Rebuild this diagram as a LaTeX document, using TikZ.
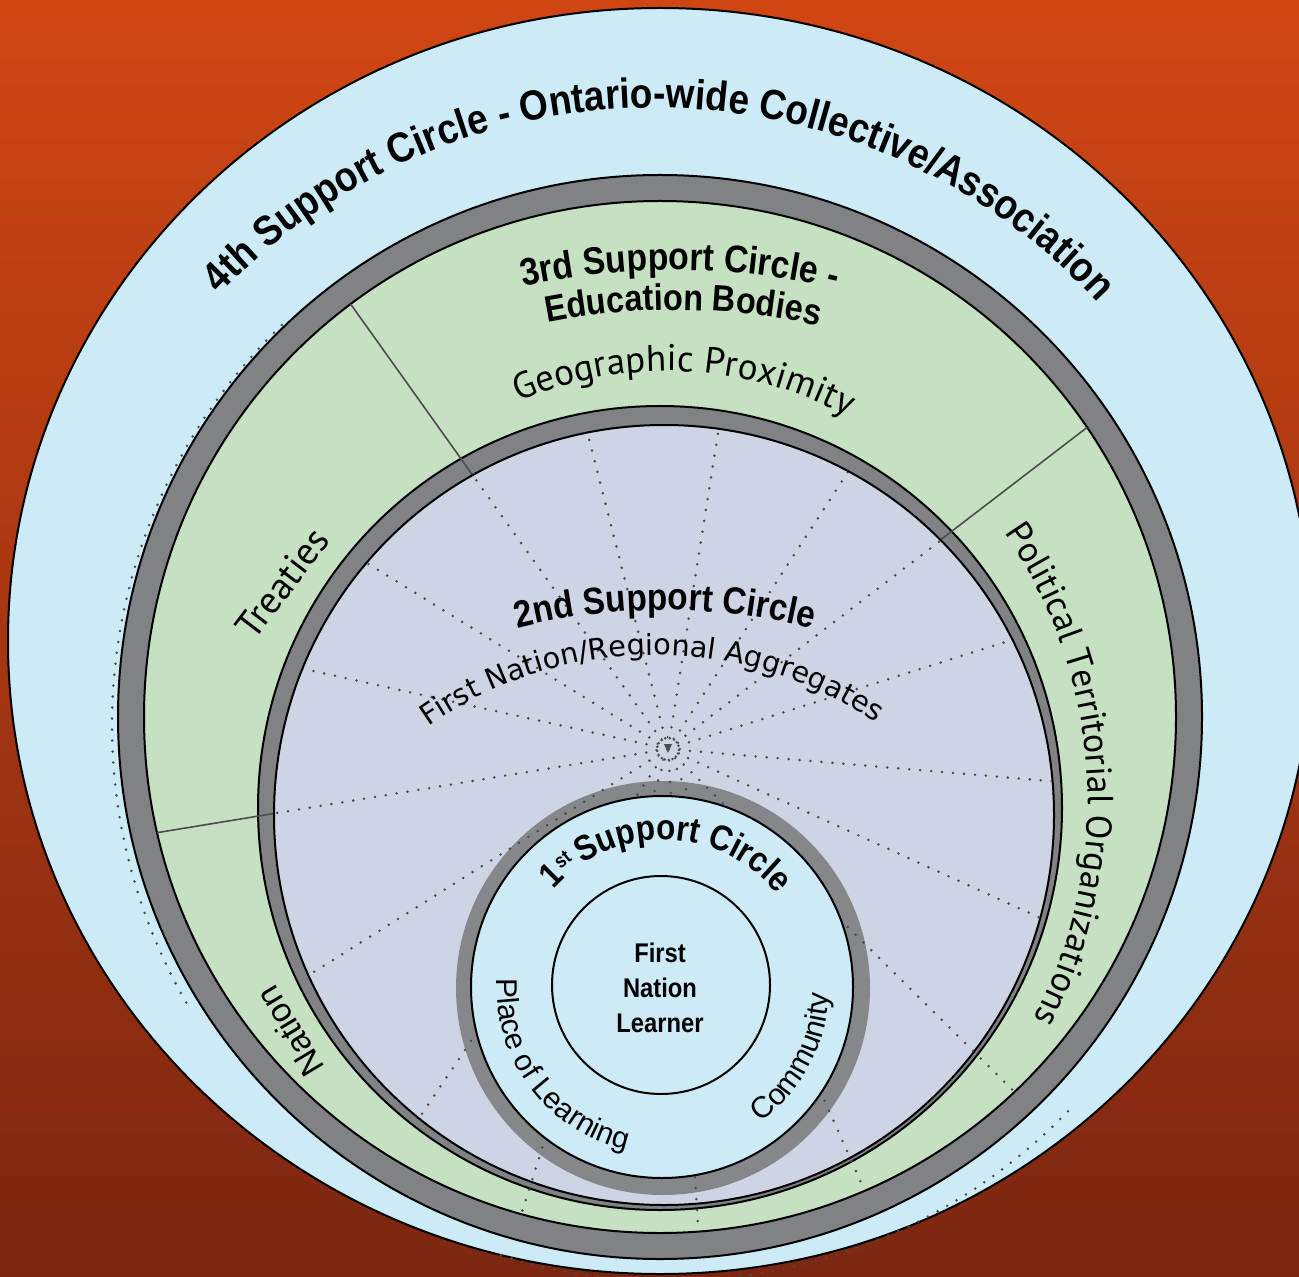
\documentclass[tikz,border=0pt]{standalone}
\usepackage{fontspec}
\setmainfont{Liberation Sans}
\newfontfamily\condfont[FakeStretch=0.88]{Liberation Sans}
\newfontfamily\humfont{PT Sans}
\newfontfamily\widefont{DejaVu Sans}
\usetikzlibrary{decorations.text}

\definecolor{bgtop}{HTML}{D04613}
\definecolor{bgmid}{HTML}{A53618}
\definecolor{bgbot}{HTML}{7C2611}
\definecolor{skyblue}{HTML}{CDEBF6}
\definecolor{bandgreen}{HTML}{C5E1C1}
\definecolor{lavender}{HTML}{CDD4E4}
\definecolor{ringgray}{HTML}{818286}
\definecolor{ringgraylight}{HTML}{86878B}
\definecolor{dotgray}{HTML}{4B4B4B}
\definecolor{divgray}{HTML}{4D4D4D}

\newcommand\headfont{\condfont\bfseries}
\newcommand\plainsans{\fontsize{15}{18}\selectfont}

\tikzset{
  outline/.style={draw=black, line width=1pt},
  dotline/.style={draw=dotgray, line width=1.4pt, line cap=round, dash pattern=on 0pt off 5.5pt},
  divider/.style={draw=divgray, line width=0.8pt},
  curvedtext/.style={decorate, decoration={text along path, text align=center, text={#1}}},
  curvedleft/.style={decorate, decoration={text along path, text align=left, text={#1}}},
}

\begin{document}
\begin{tikzpicture}[x=0.5pt, y=0.5pt]
\useasboundingbox (0,0) rectangle (1299,1276);
\shade[top color=bgtop, middle color=bgmid, bottom color=bgbot] (0,0) rectangle (1299,1276);

% centres of the rings
\coordinate (o4) at (660,635);
\coordinate (o3) at (660,559);
\coordinate (o2) at (660,468);
\coordinate (o2i) at (664,461);
\coordinate (o1) at (663,288);
\coordinate (o1i) at (662,289);
\coordinate (o0) at (661,291);
\coordinate (hub) at (668,527);
\coordinate (odot) at (668,551);
% centres of the curved captions
\coordinate (c4t) at (655,567);
\coordinate (c3t) at (675,306);
\coordinate (c2t) at (665,66);
\coordinate (cfn) at (655,226);
\coordinate (cpol) at (620,476);

% 4th support circle
\filldraw[fill=skyblue, outline] (o4) circle[x radius=652, y radius=633];
\draw[dotline] ([shift={(134:556)}]odot) arc[start angle=134, end angle=210, radius=556];
\draw[dotline] ([shift={(-44:556)}]odot) arc[start angle=-44, end angle=-108, radius=556];

% 3rd support circle
\filldraw[fill=ringgray, outline] (o3) circle[radius=542];
\filldraw[fill=bandgreen, outline] (o3) circle[radius=516];

% 2nd support circle ring
\filldraw[fill=ringgray, outline] (o2) circle[radius=402];

% sector dividers of the 3rd circle
\begin{scope}
  \clip (o3) circle[radius=516];
  \draw[divider] (hub) -- ++(125.5:700);
  \draw[divider] (hub) -- ++(37.5:700);
  \draw[divider] (hub) -- ++(189.3:700);
\end{scope}

\filldraw[fill=lavender, outline] (o2i) circle[radius=390];

% 1st support circle ring
\fill[ringgraylight] (o1) circle[radius=207];

% dotted spokes from the hub
\begin{scope}
  \clip (o2i) circle[radius=389];
  \foreach \a in {167.6,148.3,125.5,104.3,81,57,37.4,17.6,-4.8,-24.4,-124,-147.8,-170.7}
    \draw[dotline] (hub) -- ++(\a:480);
\end{scope}
\begin{scope}
  \clip (o3) circle[radius=515];
  \foreach \a in {-44.7,-66,-86.4,-107.5}
    \draw[dotline] (hub) -- ++(\a:620);
\end{scope}
\draw[dotline, line width=1.1pt, dash pattern=on 0pt off 3.2pt] (hub) circle[radius=12];
\fill[dotgray] ([shift={(0,-4)}]hub) -- ++(-4,9) -- ++(8,0) -- cycle;

% 1st support circle and learner
\filldraw[fill=skyblue, outline] (o1i) circle[radius=191];
\draw[outline] (o0) circle[radius=109];

% captions
\path[curvedtext={|\headfont\fontsize{21}{24}\selectfont|4th Support Circle - Ontario-wide Collective/Association}]
  ([shift={(150:601)}]c4t) arc[start angle=150, end angle=29, radius=601];

\path[curvedtext={|\headfont\fontsize{19.2}{22}\selectfont|3rd Support Circle -}]
  ([shift={(112:700)}]c3t) arc[start angle=112, end angle=67.2, radius=700];
\path[curvedtext={|\headfont\fontsize{18.4}{22}\selectfont|Education Bodies}]
  ([shift={(112:660)}]c3t) arc[start angle=112, end angle=66.6, radius=660];

\path[curvedtext={|\humfont\fontsize{18.5}{22}\selectfont|Geographic Proximity}]
  ([shift={(130:378)}]hub) arc[start angle=130, end angle=45, radius=378];

\path[curvedtext={|\humfont\fontsize{18}{22}\selectfont|Political Territorial Organizations}]
  ([shift={(45:468)}]cpol) arc[start angle=45, end angle=-38, radius=468];

\node[rotate=52.7, inner sep=0pt, font=\humfont\fontsize{19}{22}\selectfont] (treaties) at (282,693) {Treaties};
\node[rotate=121, inner sep=0pt, font=\fontsize{17}{20}\selectfont] (nation) at (290,244) {Nation};

\path[curvedtext={|\headfont\fontsize{18.9}{22}\selectfont|2nd Support Circle}]
  ([shift={(110:600)}]c2t) arc[start angle=110, end angle=70, radius=600];

\path[curvedtext={|\widefont\fontsize{14.4}{17}\selectfont|First Nation/Regional Aggregates}]
  ([shift={(137:395)}]cfn) arc[start angle=137, end angle=44, radius=395];

\node[rotate=45, inner sep=0pt, font=\headfont\fontsize{17.5}{20}\selectfont] (first) at ([shift={(134.7:159)}]o1) {1};
\node[rotate=38, inner sep=0pt, font=\headfont\fontsize{10}{12}\selectfont] (firstsup) at ([shift={(128:163)}]o1) {st};
\path[curvedleft={|\headfont\fontsize{17.8}{20}\selectfont|Support Circle}]
  ([shift={(123:148)}]o1) arc[start angle=123, end angle=20, radius=148];

\path[curvedtext={|\plainsans|Place of Learning}]
  ([shift={(158:166)}]o1) arc[start angle=158, end angle=276, radius=166];
\path[curvedtext={|\plainsans|Community}]
  ([shift={(-62:166)}]o1) arc[start angle=-62, end angle=6, radius=166];

\node[align=center, inner sep=0pt, font=\headfont\fontsize{13.5}{17.5}\selectfont] (learner) at (660,288) {First\\Nation\\Learner};
\end{tikzpicture}
\end{document}
